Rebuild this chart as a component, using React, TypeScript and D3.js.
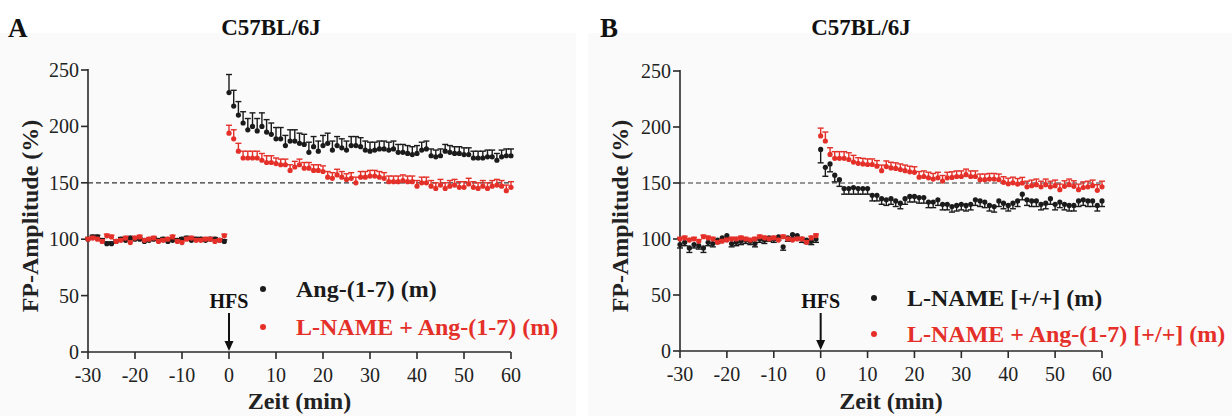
import React from 'react';
import * as d3 from 'd3';

const BASE_TIMES = d3.range(-30, 0);
const POST_TIMES = d3.range(0, 61);
const X_TICKS = [-30, -20, -10, 0, 10, 20, 30, 40, 50, 60];
const Y_TICKS = [0, 50, 100, 150, 200, 250];

// Panel A
const A_BLACK_BASE = [100, 102, 102, 99, 96, 96, 98, 100, 99, 101, 100, 100, 98, 99, 100, 99, 100, 98, 99, 99, 100, 101, 99, 100, 100, 99, 100, 100, 99, 98];
const A_RED_BASE = [100, 101, 100, 98, 103, 102, 98, 99, 101, 97, 101, 102, 99, 100, 101, 98, 99, 100, 102, 98, 97, 100, 101, 99, 99, 100, 100, 98, 99, 103];
const A_BLACK_POST = [230, 218, 210, 203, 197, 200, 196, 200, 195, 193, 189, 189, 183, 187, 187, 185, 184, 177, 182, 178, 183, 185, 179, 183, 181, 179, 183, 183, 182, 179, 178, 179, 180, 180, 179, 180, 177, 177, 176, 175, 176, 179, 180, 174, 173, 174, 178, 177, 176, 176, 175, 175, 172, 172, 172, 173, 173, 170, 173, 174, 174];
const A_BLACK_SEM = [16, 14, 12, 10, 10, 12, 11, 12, 11, 10, 10, 10, 9, 10, 10, 9, 9, 9, 9, 9, 9, 9, 8, 8, 8, 8, 8, 8, 8, 8, 8, 7, 7, 7, 7, 7, 7, 7, 7, 7, 7, 7, 7, 6, 6, 6, 6, 6, 6, 6, 6, 6, 6, 6, 6, 6, 6, 6, 6, 6, 6];
const A_RED_POST = [194, 189, 178, 172, 172, 172, 172, 170, 168, 168, 167, 166, 166, 161, 164, 166, 163, 163, 161, 161, 160, 155, 154, 157, 155, 153, 154, 150, 155, 155, 156, 156, 155, 154, 151, 151, 151, 152, 151, 151, 147, 150, 150, 147, 145, 148, 145, 147, 148, 146, 146, 149, 146, 145, 147, 145, 147, 148, 147, 143, 146];
const A_RED_SEM = [7, 8, 7, 6, 6, 6, 6, 6, 6, 6, 5, 5, 5, 5, 5, 5, 5, 5, 5, 5, 5, 5, 5, 5, 5, 5, 5, 5, 5, 5, 5, 5, 5, 5, 5, 5, 5, 5, 5, 5, 5, 5, 5, 5, 5, 5, 5, 5, 5, 5, 5, 5, 5, 5, 5, 5, 5, 5, 5, 5, 5];

// Panel B
const B_BLACK_BASE = [95, 97, 92, 95, 94, 92, 97, 96, 99, 101, 103, 96, 97, 98, 99, 98, 96, 100, 99, 101, 100, 102, 93, 101, 104, 103, 100, 99, 98, 100];
const B_BLACK_BASE_SEM = [3, 3, 4, 3, 3, 4, 3, 3, 3, 3, 3, 3, 3, 3, 3, 3, 3, 3, 3, 3, 3, 3, 3, 3, 3, 3, 3, 3, 3, 3];
const B_RED_BASE = [100, 101, 99, 100, 98, 102, 101, 100, 97, 98, 99, 100, 100, 101, 100, 99, 100, 102, 101, 100, 101, 99, 102, 100, 99, 100, 100, 97, 101, 103];
const B_BLACK_POST = [180, 164, 167, 157, 153, 145, 145, 146, 145, 145, 145, 139, 139, 136, 135, 136, 134, 132, 136, 138, 138, 137, 137, 133, 133, 135, 131, 131, 129, 130, 131, 130, 131, 135, 134, 133, 130, 129, 134, 132, 130, 132, 134, 140, 135, 134, 134, 131, 132, 136, 131, 133, 131, 130, 130, 134, 135, 134, 134, 130, 134];
const B_BLACK_SEM = [12, 8, 7, 6, 6, 5, 5, 6, 5, 5, 5, 5, 5, 5, 5, 5, 5, 5, 5, 5, 5, 5, 5, 5, 5, 5, 5, 5, 5, 5, 5, 5, 5, 5, 5, 5, 5, 5, 5, 5, 5, 5, 5, 5, 5, 5, 5, 5, 5, 5, 5, 5, 5, 5, 5, 5, 5, 5, 5, 5, 5];
const B_RED_POST = [192, 187.5, 175.5, 172, 172, 172, 171, 168.7, 167.6, 167, 166.5, 166.5, 165, 161, 164.7, 163.5, 163, 162, 161, 160, 159.5, 155.2, 155.8, 154.6, 153.5, 154.6, 151.7, 154.6, 155, 155.8, 155.8, 157.4, 155.8, 155.8, 153, 153, 153.5, 153.5, 153, 150.6, 149.3, 150.2, 149, 150, 146.6, 147.6, 148.5, 146.6, 148.5, 146.6, 147.6, 144, 147, 148.5, 147, 144, 146, 146.6, 147.6, 143.5, 146.6];
const B_RED_SEM = [7, 8, 6, 6, 6, 6, 6, 6, 5, 5, 5, 5, 5, 5, 5, 5, 5, 5, 5, 5, 5, 5, 5, 5, 5, 5, 5, 5, 5, 5, 5, 5, 5, 5, 5, 5, 5, 5, 5, 5, 5, 5, 5, 5, 5, 5, 5, 5, 5, 5, 5, 5, 5, 5, 5, 5, 5, 5, 5, 5, 5];

const TITLE = 'C57BL/6J';
const Y_LABEL = 'FP-Amplitude (%)';
const X_LABEL = 'Zeit (min)';
const A_LEGEND = ['Ang-(1-7) (m)', 'L-NAME + Ang-(1-7) (m)'];
const B_LEGEND = ['L-NAME [+/+] (m)', 'L-NAME + Ang-(1-7) [+/+] (m)'];

const BLACK = '#1b1b1b';
const RED = '#e5302a';
const AXIS = '#2a2a2a';
const FONT = 'Liberation Serif, Times New Roman, Times, serif';

type Series = {
  color: string;
  base: number[];
  baseSem?: number[];
  post: number[];
  sem: number[];
  dir: 1 | -1;
};

type PanelProps = {
  letter: string;
  letterX: number;
  bgX: number;
  bgW: number;
  left: number;
  right: number;
  bottom: number;
  top: number;
  titleX: number;
  yLabelX: number;
  series: Series[];
  legend: string[];
  legendX: number;
  legendY: number[];
};

function Panel(p: PanelProps) {
  const x = d3.scaleLinear().domain([-30, 60]).range([p.left, p.right]);
  const y = d3.scaleLinear().domain([0, 250]).range([p.bottom, p.top]);
  const cap = 3;
  const r = 2.6;

  const renderSeries = (s: Series, key: string) => {
    const pts: { t: number; v: number; e: number }[] = [];
    BASE_TIMES.forEach((t, i) => pts.push({ t, v: s.base[i], e: s.baseSem ? s.baseSem[i] : 1.5 }));
    POST_TIMES.forEach((t, i) => pts.push({ t, v: s.post[i], e: s.sem[i] }));
    return (
      <g key={key}>
        {pts.map((d, i) => {
          const x0 = x(d.t);
          const yEnd = y(d.v + s.dir * d.e);
          return (
            <g key={i} stroke={s.color} strokeWidth={1.4}>
              <line x1={x0} x2={x0} y1={y(d.v)} y2={yEnd} />
              <line x1={x0 - cap} x2={x0 + cap} y1={yEnd} y2={yEnd} />
            </g>
          );
        })}
        {pts.map((d, i) => (
          <circle key={'c' + i} cx={x(d.t)} cy={y(d.v)} r={r} fill={s.color} />
        ))}
      </g>
    );
  };

  const midX = (p.left + p.right) / 2;
  const midY = (p.top + p.bottom) / 2;
  const x0 = x(0);

  return (
    <g style={{ fontFamily: FONT }}>
      <rect x={p.bgX} y={33} width={p.bgW} height={416 - 33} fill="#fafafa" />
      <text x={p.letterX} y={37} fontWeight="bold" fontSize={27} fill="#111">{p.letter}</text>
      <text x={p.titleX} y={35} textAnchor="middle" fontWeight="bold" fontSize={23} fill="#111">{TITLE}</text>

      {/* dashed 150% line */}
      <line x1={p.left} x2={p.right} y1={y(150)} y2={y(150)} stroke="#333" strokeWidth={1.2} strokeDasharray="5,3" />

      {/* axes */}
      <line x1={p.left} x2={p.left} y1={p.top - 1} y2={p.bottom} stroke={AXIS} strokeWidth={1.6} />
      <line x1={p.left} x2={p.right} y1={p.bottom} y2={p.bottom} stroke={AXIS} strokeWidth={1.6} />
      {Y_TICKS.map((t) => (
        <g key={'y' + t}>
          <line x1={p.left - 7} x2={p.left} y1={y(t)} y2={y(t)} stroke={AXIS} strokeWidth={1.6} />
          <text x={p.left - 9} y={y(t)} dy="0.35em" textAnchor="end" fontSize={20} fill="#222">{t}</text>
        </g>
      ))}
      {X_TICKS.map((t) => (
        <g key={'x' + t}>
          <line x1={x(t)} x2={x(t)} y1={p.bottom} y2={p.bottom + 7} stroke={AXIS} strokeWidth={1.6} />
          <text x={x(t)} y={p.bottom + 30} textAnchor="middle" fontSize={20} fill="#222">{t}</text>
        </g>
      ))}
      <text x={midX} y={409} textAnchor="middle" fontWeight="bold" fontSize={24} fill="#222">{X_LABEL}</text>
      <text transform={`translate(${p.yLabelX},${midY + 5}) rotate(-90)`} textAnchor="middle" fontWeight="bold" fontSize={24} fill="#222">{Y_LABEL}</text>

      {/* HFS arrow */}
      <text x={x0} y={308} textAnchor="middle" fontWeight="bold" fontSize={20} fill="#111">HFS</text>
      <line x1={x0} x2={x0} y1={313} y2={p.bottom - 8} stroke="#111" strokeWidth={2} />
      <path d={`M${x0 - 4.5},${p.bottom - 11} L${x0 + 4.5},${p.bottom - 11} L${x0},${p.bottom - 1} Z`} fill="#111" />

      {p.series.map((s, i) => renderSeries(s, 's' + i))}

      {/* legend */}
      {p.legend.map((l, i) => (
        <g key={'l' + i}>
          <circle cx={p.legendX} cy={p.legendY[i]} r={3} fill={p.series[i].color} />
          <text x={p.legendX + 33} y={p.legendY[i]} dy="0.33em" fontWeight="bold" fontSize={24} fill={p.series[i].color}>{l}</text>
        </g>
      ))}
    </g>
  );
}

export default function App() {
  const aSeries: Series[] = [
    { color: BLACK, base: A_BLACK_BASE, post: A_BLACK_POST, sem: A_BLACK_SEM, dir: 1 },
    { color: RED, base: A_RED_BASE, post: A_RED_POST, sem: A_RED_SEM, dir: 1 },
  ];
  const bSeries: Series[] = [
    { color: BLACK, base: B_BLACK_BASE, baseSem: B_BLACK_BASE_SEM, post: B_BLACK_POST, sem: B_BLACK_SEM, dir: -1 },
    { color: RED, base: B_RED_BASE, post: B_RED_POST, sem: B_RED_SEM, dir: 1 },
  ];
  return (
    <svg width={1232} height={416} style={{ position: 'absolute', left: 0, top: 0, background: '#fff' }}>
      <Panel letter="A" letterX={8} bgX={0} bgW={576} left={88} right={511} bottom={352} top={70} titleX={271}
        yLabelX={38} series={aSeries} legend={A_LEGEND} legendX={263} legendY={[289, 327]} />
      <Panel letter="B" letterX={600} bgX={588} bgW={644} left={680} right={1102} bottom={351} top={71} titleX={861}
        yLabelX={628} series={bSeries} legend={B_LEGEND} legendX={874} legendY={[298, 334]} />
    </svg>
  );
}
